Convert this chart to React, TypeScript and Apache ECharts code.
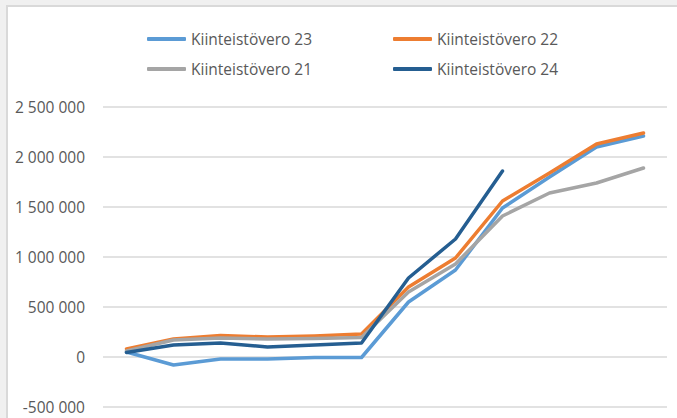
import React, { useEffect, useRef } from "react";
import * as echarts from "echarts";

const categories = ["1", "2", "3", "4", "5", "6", "7", "8", "9", "10", "11", "12"];
const seriesNames = ["Kiinteistövero 23", "Kiinteistövero 22", "Kiinteistövero 21", "Kiinteistövero 24"];
const vero23 = [50000, -80000, -20000, -20000, -5000, -5000, 550000, 870000, 1490000, 1800000, 2100000, 2210000];
const vero22 = [80000, 180000, 215000, 200000, 210000, 230000, 700000, 990000, 1560000, 1840000, 2130000, 2240000];
const vero21 = [60000, 170000, 190000, 180000, 185000, 195000, 650000, 930000, 1410000, 1640000, 1740000, 1890000];
const vero24 = [45000, 120000, 140000, 100000, 120000, 140000, 790000, 1180000, 1860000];
const colors = ["#5B9BD5", "#ED7D31", "#A5A5A5", "#255E91"];

const FONT = "'Open Sans', 'Noto Sans', sans-serif";
const TEXT_COLOR = "#595959";

function fmt(v: number): string {
  const s = String(Math.abs(v)).replace(/\B(?=(\d{3})+(?!\d))/g, " ");
  return v < 0 ? "-" + s : s;
}

export default function App() {
  const ref = useRef<HTMLDivElement>(null);
  useEffect(() => {
    if (!ref.current) return;
    const chart = echarts.init(ref.current, null, { renderer: "svg" });
    const allData = [vero23, vero22, vero21, vero24];
    const legendPos = [
      { left: 147, top: 31 },
      { left: 393, top: 31 },
      { left: 147, top: 61 },
      { left: 393, top: 61 },
    ];
    chart.setOption({
      animation: false,
      grid: { left: 103, right: 10, top: 107, bottom: 11, containLabel: false },
      legend: seriesNames.map((n, i) => ({
        data: [n],
        left: legendPos[i].left,
        top: legendPos[i].top,
        padding: 0,
        icon: "roundRect",
        itemWidth: 39,
        itemHeight: 4,
        textStyle: { fontFamily: FONT, fontSize: 15.5, color: TEXT_COLOR },
        selectedMode: false,
      })),
      xAxis: {
        type: "category",
        data: categories,
        boundaryGap: true,
        axisLine: { show: false },
        axisTick: { show: false },
        axisLabel: { show: false },
        splitLine: { show: false },
      },
      yAxis: {
        type: "value",
        min: -500000,
        max: 2500000,
        interval: 500000,
        axisLine: { show: false },
        axisTick: { show: false },
        axisLabel: {
          formatter: (v: number) => fmt(v),
          fontFamily: FONT,
          fontSize: 15.5,
          color: TEXT_COLOR,
          margin: 18,
        },
        splitLine: { lineStyle: { color: "#D9D9D9", width: 1.5 } },
      },
      series: seriesNames.map((n, i) => ({
        name: n,
        type: "line",
        data: allData[i],
        symbol: "none",
        color: colors[i],
        lineStyle: { width: 3.5, color: colors[i], cap: "round", join: "round" },
        itemStyle: { color: colors[i] },
      })),
    });
    return () => chart.dispose();
  }, []);
  return (
    <div style={{ position: "fixed", left: 0, top: 0, width: 677, height: 418, background: "#F0F0F0", overflow: "hidden" }}>
      <div
        style={{
          position: "absolute",
          left: 6,
          top: 5,
          width: 700,
          height: 500,
          background: "#FFFFFF",
          borderLeft: "2px solid #D9D9D9",
          borderTop: "2px solid #D9D9D9",
        }}
      />
      <div ref={ref} style={{ position: "absolute", left: 0, top: 0, width: 677, height: 418 }} />
    </div>
  );
}
